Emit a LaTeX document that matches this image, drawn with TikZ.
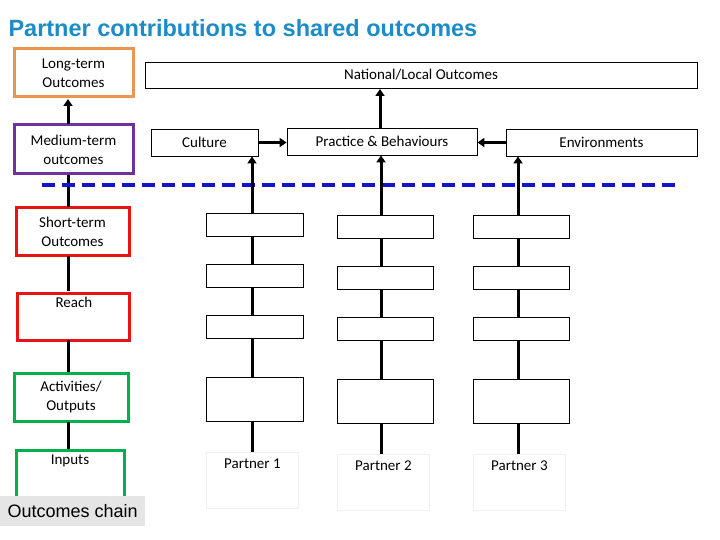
\documentclass[tikz,border=0pt]{standalone}
\usepackage{fontspec}
\setmainfont{Carlito}
\newfontfamily\arialf{Liberation Sans}
\usetikzlibrary{arrows.meta}
\definecolor{ttl}{RGB}{28,140,200}
\definecolor{org}{RGB}{232,150,80}
\definecolor{pur}{RGB}{112,48,160}
\definecolor{rd}{RGB}{230,20,20}
\definecolor{gr}{RGB}{0,176,80}
\definecolor{dbl}{RGB}{20,20,200}
\begin{document}
\begin{tikzpicture}[x=1pt,y=-1pt,
  lab/.style={draw,line width=3pt,inner sep=0pt,align=center,font=\fontsize{15}{19}\selectfont},
  bx/.style={draw,line width=0.8pt,inner sep=0pt,font=\fontsize{15}{18}\selectfont},
  ln/.style={line width=3pt},
  ar/.style={line width=3pt,-{Triangle[length=7pt,width=9pt]}}]
\useasboundingbox (0,0) rectangle (720,540);
\node[anchor=west,font=\arialf\bfseries\fontsize{23.5}{26}\selectfont,text=ttl] (title) at (5,28) {Partner contributions to shared outcomes};
% left chain
\node[lab,draw=org,minimum width=119pt,minimum height=48pt] (lt) at (73.5,73) {Long-term\\Outcomes};
\node[lab,draw=pur,minimum width=119pt,minimum height=49pt] (mt) at (73.5,149.5) {Medium-term\\outcomes};
\node[lab,draw=rd,minimum width=113pt,minimum height=47pt] (st) at (72.5,231.5) {Short-term\\Outcomes};
\node[lab,draw=rd,minimum width=112pt,minimum height=47pt,anchor=north west,text width=100pt,align=left,inner sep=3pt,text depth=30pt] (re) at (16,292) {\hspace*{32pt}Reach};
\node[lab,draw=gr,minimum width=114pt,minimum height=48pt] (ac) at (71,397) {Activities/\\Outputs};
\node[lab,draw=gr,minimum width=108pt,minimum height=46pt,anchor=north,inner sep=4pt] (in) at (70,449) {Inputs\\[18pt]};
\node[fill=black!10,minimum width=145pt,minimum height=30pt,anchor=north west,inner sep=0pt,font=\arialf\fontsize{18}{20}\selectfont] (oc) at (0,496) {Outcomes chain};
\draw[ln] (in.north -| 68,0) -- (68,422) (68,372) -- (68,340) (68,291) -- (68,256) (68,207) -- (68,175);
\draw[ar] (68,124) -- (68,99);
% top
\node[bx,minimum width=552pt,minimum height=26pt] (nat) at (421,75) {National/Local Outcomes};
\node[bx,minimum width=107pt,minimum height=27pt] (cul) at (204.5,142.5) {Culture};
\node[bx,minimum width=190pt,minimum height=27pt] (pra) at (382,141.5) {Practice \& Behaviours};
\node[bx,minimum width=191pt,minimum height=27pt] (env) at (601.5,142.5) {Environments};
\draw[ar] (cul.east) -- (pra.west |- cul.east);
\draw[ar] (env.west) -- (pra.east |- env.east);
\draw[ar] (pra.north -| 380,0) -- (380,89);
\draw[dbl,line width=3.5pt,dash pattern=on 13pt off 7pt] (42,185) -- (680,185);
% columns
\foreach \c/\x/\w/\o/\t/\n in {1/206/97/0/cul/1,2/337/96/2/pra/2,3/473/96/2/env/3}{
  \node[bx,minimum width=\w pt,minimum height=23pt,anchor=north west] (a\c) at (\x,213+\o) {};
  \node[bx,minimum width=\w pt,minimum height=23pt,anchor=north west] (b\c) at (\x,264+\o) {};
  \node[bx,minimum width=\w pt,minimum height=23pt,anchor=north west] (c\c) at (\x,315+\o) {};
  \node[bx,minimum width=\w pt,minimum height=44pt,anchor=north west] (d\c) at (\x,377+\o) {};
  \node[bx,draw=black!6,minimum width=92pt,minimum height=56pt,anchor=north west,text depth=34pt] (p\c) at (\x,452+\o) {Partner \n};
}
\draw[ln] (p1.north -| 252,0) -- (d1.south -| 252,0) (d1.north -| 252,0) -- (c1.south -| 252,0) (c1.north -| 252,0) -- (b1.south -| 252,0) (b1.north -| 252,0) -- (a1.south -| 252,0);
\draw[ar] (a1.north -| 252,0) -- (cul.south -| 252,0);
\draw[ln] (p2.north -| 381,0) -- (d2.south -| 381,0) (d2.north -| 381,0) -- (c2.south -| 381,0) (c2.north -| 381,0) -- (b2.south -| 381,0) (b2.north -| 381,0) -- (a2.south -| 381,0);
\draw[ar] (a2.north -| 381,0) -- (pra.south -| 381,0);
\draw[ln] (p3.north -| 518,0) -- (d3.south -| 518,0) (d3.north -| 518,0) -- (c3.south -| 518,0) (c3.north -| 518,0) -- (b3.south -| 518,0) (b3.north -| 518,0) -- (a3.south -| 518,0);
\draw[ar] (a3.north -| 518,0) -- (env.south -| 518,0);
\end{tikzpicture}
\end{document}
